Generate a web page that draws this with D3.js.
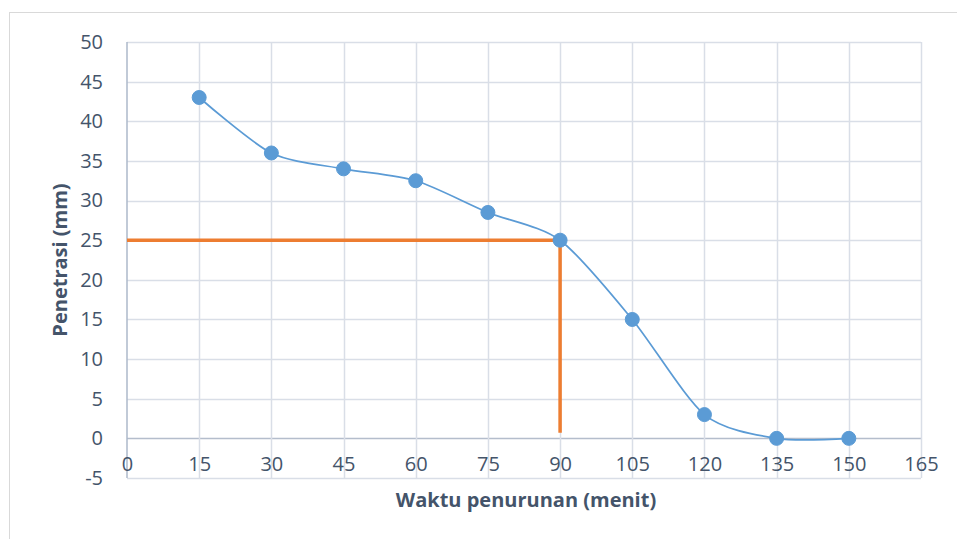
<!DOCTYPE html>
<html><head><meta charset="utf-8">
<script src="https://cdn.jsdelivr.net/npm/d3@7"></script>
<style>body{margin:0;background:#fff}svg{display:block}</style>
</head><body>
<svg id="c" width="957" height="539"></svg>
<script>
const xValues = [15, 30, 45, 60, 75, 90, 105, 120, 135, 150];
const yValues = [43, 36, 34, 32.5, 28.5, 25, 15, 3, 0, 0];
const xTicks = [0, 15, 30, 45, 60, 75, 90, 105, 120, 135, 150, 165];
const yTicks = [-5, 0, 5, 10, 15, 20, 25, 30, 35, 40, 45, 50];
const guideX = [0, 90, 90];
const guideY = [25, 25, 0.7];
const xTitle = "Waktu penurunan (menit)";
const yTitle = "Penetrasi (mm)";

const svg = d3.select("#c");
const font = "'Open Sans', sans-serif";
const textCol = "#44546A";
const gridCol = "#D9DEE7";

svg.append("rect").attr("x", 9.5).attr("y", 12.5).attr("width", 960).attr("height", 540)
  .attr("fill", "none").attr("stroke", "#D9D9D9");

const x = d3.scaleLinear().domain([0, 165]).range([127, 921]);
const y = d3.scaleLinear().domain([-5, 50]).range([478, 42]);

const g = svg.append("g");
g.selectAll("line.h").data(yTicks).join("line")
  .attr("x1", x(0)).attr("x2", x(165))
  .attr("y1", d => Math.round(y(d)) + 0.5).attr("y2", d => Math.round(y(d)) + 0.5)
  .attr("stroke", d => d === 0 ? "#B4BDCC" : gridCol).attr("stroke-width", 1.5);
g.selectAll("line.v").data(xTicks.slice(1)).join("line")
  .attr("x1", d => Math.round(x(d)) + 0.5).attr("x2", d => Math.round(x(d)) + 0.5)
  .attr("y1", y(50)).attr("y2", y(-5))
  .attr("stroke", gridCol).attr("stroke-width", 1.5);
g.append("line").attr("x1", x(0)).attr("x2", x(0)).attr("y1", y(50)).attr("y2", y(-5))
  .attr("stroke", "#ADB9CA").attr("stroke-width", 1.5);

const yAxis = d3.axisLeft(y).tickValues(yTicks).tickSize(0).tickPadding(24).tickFormat(d => String(d));
const ya = svg.append("g").attr("transform", `translate(${x(0)},0)`).call(yAxis);
ya.select(".domain").remove();
ya.selectAll("text").attr("font-family", font).attr("font-size", 20).attr("fill", textCol);

const xAxis = d3.axisBottom(x).tickValues(xTicks).tickSize(0).tickPadding(0).tickFormat(d => String(d));
const xa = svg.append("g").attr("transform", `translate(0,${y(-5) - 19})`).call(xAxis);
xa.select(".domain").remove();
xa.selectAll("text").attr("font-family", font).attr("font-size", 20).attr("fill", textCol).attr("dy", "0.6em");

svg.append("path")
  .attr("d", d3.line().x((d, i) => x(guideX[i])).y((d, i) => y(guideY[i]))(guideX))
  .attr("fill", "none").attr("stroke", "#ED7D31").attr("stroke-width", 3.5);

const line = d3.line().x((d, i) => x(xValues[i])).y((d, i) => y(yValues[i])).curve(d3.curveCardinal.tension(0.2));
svg.append("path").attr("d", line(xValues)).attr("fill", "none").attr("stroke", "#5B9BD5").attr("stroke-width", 1.75);

svg.selectAll("circle.p").data(xValues).join("circle")
  .attr("cx", (d) => x(d)).attr("cy", (d, i) => y(yValues[i])).attr("r", 7)
  .attr("fill", "#5B9BD5").attr("stroke", "#5B9BD5");

svg.append("text").attr("x", x(82.5) + 2).attr("y", 507).attr("text-anchor", "middle")
  .attr("font-family", font).attr("font-size", 20).attr("font-weight", "bold").attr("fill", textCol).text(xTitle);
svg.append("text").attr("transform", `translate(67,${y(22.5)}) rotate(-90)`).attr("text-anchor", "middle")
  .attr("font-family", font).attr("font-size", 20).attr("font-weight", "bold").attr("fill", textCol).text(yTitle);
</script>
</body></html>
